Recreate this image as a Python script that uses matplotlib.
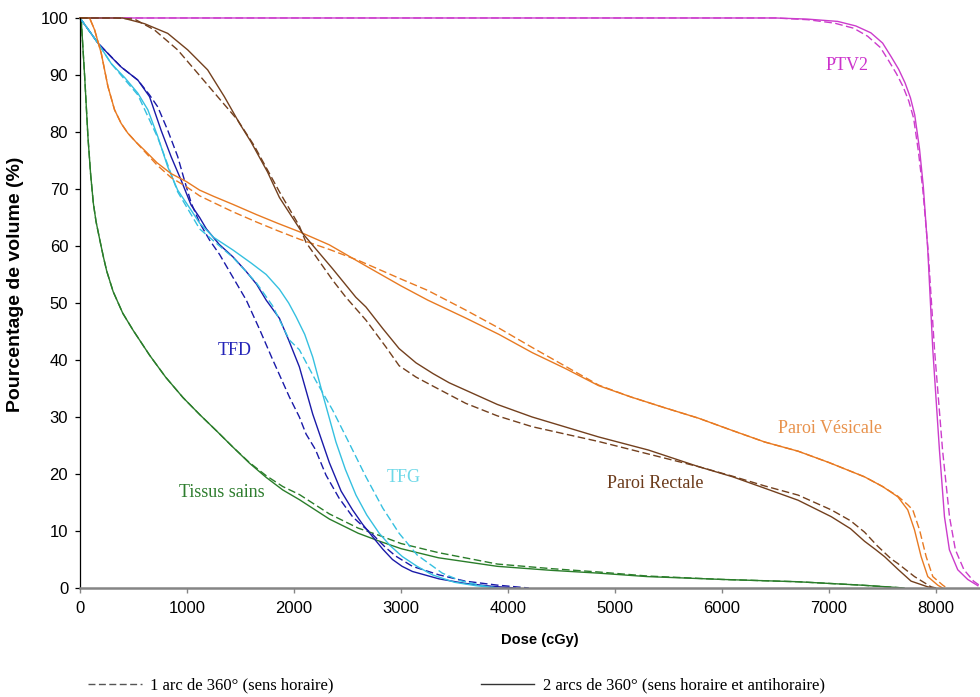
import matplotlib
matplotlib.use("Agg")
import matplotlib.pyplot as plt
from matplotlib.lines import Line2D

# Dose-volume histograms: dose (cGy) vs. percentage of volume (%)
# "arc1" = 1 arc of 360° (dashed), "arc2" = 2 arcs of 360° (solid)

ptv2_arc2_dose = [0, 6500, 6800, 7080, 7250, 7390, 7500, 7580, 7650, 7710, 7760, 7800,
                  7845, 7880, 7922, 7969, 8031, 8078, 8124, 8202, 8295, 8390]
ptv2_arc2_vol = [100, 100, 99.8, 99.4, 98.6, 97.4, 95.6, 93.2, 91, 88.6, 86, 83,
                 77, 70.5, 59.3, 41.8, 24.2, 12.5, 6.7, 3.2, 1.5, 0.4]
ptv2_arc1_dose = [0, 6500, 6800, 7050, 7230, 7360, 7480, 7560, 7630, 7690, 7745, 7790,
                  7835, 7875, 7925, 7985, 8060, 8125, 8180, 8260, 8350, 8410]
ptv2_arc1_vol = [100, 100, 99.7, 99.1, 98.2, 96.8, 94.8, 92.4, 90.2, 88, 85.4, 82.4,
                 76.5, 70, 59.3, 41.8, 24.2, 12.5, 6.7, 3.2, 1.2, 0.4]

sains_arc2_dose = [0, 12, 44, 75, 100, 125, 150, 186, 220, 250, 310, 400, 497, 652, 800,
                   963, 1120, 1274, 1430, 1584, 1740, 1895, 2050, 2330, 2600, 2800, 3000,
                   3350, 3900, 4400, 4850, 5300, 6000, 6700, 7300, 7700]
sains_arc2_vol = [100, 99.6, 89.7, 79, 72.5, 67.5, 64.3, 61.0, 58.0, 55.6, 52.0, 48.2, 45.2,
                  40.8, 37, 33.4, 30.4, 27.6, 24.7, 21.9, 19.4, 17.2, 15.5, 12.1, 9.6, 8.2,
                  6.9, 5.3, 3.8, 3.1, 2.6, 2.0, 1.5, 1.1, 0.5, 0]
sains_arc1_dose = [0, 12, 44, 75, 100, 125, 150, 186, 220, 250, 310, 400, 497, 652, 800,
                   963, 1120, 1274, 1430, 1584, 1740, 1895, 2050, 2330, 2600, 2800, 3000,
                   3350, 3900, 4400, 4850, 5300, 6000, 6700, 7300, 7700]
sains_arc1_vol = [100, 99.6, 89.7, 79, 72.5, 67.5, 64.3, 61.0, 58.0, 55.6, 52.0, 48.2, 45.2,
                  40.8, 37, 33.4, 30.4, 27.6, 24.7, 22.0, 19.7, 17.8, 16.4, 13.0, 10.5, 9.2,
                  7.8, 6.2, 4.2, 3.4, 2.8, 2.1, 1.5, 1.1, 0.5, 0]

tfd_arc2_dose = [0, 168, 290, 385, 541, 650, 758, 851, 944, 1038, 1118, 1181, 1300, 1429,
                 1550, 1650, 1740, 1864, 1950, 2050, 2175, 2330, 2440, 2547, 2640, 2734,
                 2830, 2920, 3010, 3106, 3355, 3600, 3850, 4070]
tfd_arc2_vol = [100, 95.6, 93.2, 91.4, 89.1, 86.2, 80.3, 75.7, 71.6, 67.2, 65, 63, 60.3, 58.1,
                55.6, 53.3, 50.5, 47.3, 43.5, 38.8, 30.5, 22, 17, 13.7, 11.2, 9,
                6.8, 5, 3.8, 2.9, 1.6, 0.8, 0.3, 0]
tfd_arc1_dose = [0, 168, 385, 541, 650, 727, 820, 913, 975, 1040, 1120, 1212, 1305, 1420,
                 1554, 1680, 1802, 1957, 2050, 2113, 2200, 2299, 2420, 2547, 2640, 2734,
                 2850, 2950, 3106, 3355, 3600, 3900, 4194]
tfd_arc1_vol = [100, 95.6, 91.4, 89.1, 86.5, 84.4, 80.3, 75.7, 71.6, 67.5, 64, 61, 58.5, 54.8,
                50.5, 45.3, 40, 33.5, 30, 27, 24.3, 19.8, 15.8, 12.5, 10.9, 9.4,
                7.2, 5.6, 3.8, 2.3, 1.2, 0.5, 0]

tfg_arc2_dose = [0, 168, 292, 420, 541, 634, 727, 820, 913, 1038, 1118, 1250, 1429, 1600,
                 1740, 1864, 1950, 2019, 2100, 2175, 2268, 2392, 2480, 2579, 2680, 2796,
                 2900, 3013, 3150, 3293, 3500, 3700, 3900]
tfg_arc2_vol = [100, 95.6, 92, 89.5, 86.8, 83.9, 79.2, 73.9, 69.8, 66.3, 64, 61.5, 59.3, 57,
                55, 52.4, 50, 47.6, 44.5, 40.5, 34, 25.6, 20.8, 16.3, 12.8, 9.6,
                7.4, 5.5, 3.8, 2.3, 1.0, 0.4, 0]
tfg_arc1_dose = [0, 168, 292, 541, 727, 913, 1118, 1429, 1650, 1800, 1957, 2050, 2200, 2361,
                 2500, 2672, 2830, 2982, 3150, 3386, 3550, 3759, 3900]
tfg_arc1_vol = [100, 95.6, 92, 86.5, 79, 69.5, 63, 58, 53.5, 49.5, 43.5, 41.8, 36.5, 31.2,
                26, 19.5, 14, 9.6, 5.8, 2.6, 1.3, 0.4, 0]

vesicale_arc2_dose = [0, 90, 137, 199, 261, 323, 385, 447, 525, 603, 720, 851, 994, 1118,
                      1250, 1429, 1650, 1845, 2050, 2330, 2672, 3000, 3250, 3600, 3914, 4225,
                      4536, 4846, 5150, 5467, 5778, 6100, 6400, 6710, 7000, 7331, 7500, 7642,
                      7735, 7798, 7860, 7922, 8015, 8060]
vesicale_arc2_vol = [100, 100, 97.9, 93.8, 88, 83.9, 81.5, 79.8, 78.2, 76.8, 74.6, 72.7, 71.3,
                     69.8, 68.7, 67.3, 65.5, 64, 62.5, 60.2, 56.5, 53, 50.5, 47.4, 44.5, 41.3,
                     38.5, 35.5, 33.5, 31.6, 29.8, 27.6, 25.6, 24, 22, 19.5, 17.8, 16,
                     13.7, 10.2, 5.5, 2, 0.5, 0]
vesicale_arc1_dose = [0, 90, 137, 199, 261, 323, 385, 447, 525, 603, 720, 851, 994, 1118,
                      1250, 1429, 1650, 1845, 2050, 2330, 2610, 3000, 3250, 3600, 3914, 4225,
                      4536, 4846, 5150, 5467, 5778, 6100, 6400, 6710, 7000, 7331, 7500, 7642,
                      7735, 7782, 7845, 7907, 7969, 8062, 8100]
vesicale_arc1_vol = [100, 100, 97.9, 93.8, 88, 83.9, 81.5, 79.8, 78.2, 76.6, 74.2, 72.0, 70.4,
                     68.8, 67.6, 66.0, 64.2, 62.7, 61.2, 59.4, 57.4, 54.2, 52.2, 48.8, 45.6, 42.2,
                     38.9, 35.6, 33.5, 31.6, 29.8, 27.6, 25.6, 24, 22, 19.5, 17.8, 16.1,
                     14.6, 13.7, 10.2, 5.5, 2, 0.5, 0]

rectale_arc2_dose = [0, 400, 603, 820, 1007, 1193, 1349, 1491, 1597, 1752, 1864, 2081, 2361,
                     2578, 2672, 2830, 2982, 3140, 3300, 3450, 3604, 3900, 4225, 4846, 5312,
                     5778, 6100, 6399, 6710, 7021, 7200, 7331, 7430, 7518, 7642, 7766, 7922,
                     7980]
rectale_arc2_vol = [100, 100, 99, 97.3, 94.4, 90.9, 86.2, 81.5, 78.3, 73, 68.5, 62.2, 56,
                    51, 49.3, 45.5, 42, 39.5, 37.6, 36.0, 34.7, 32.2, 30, 26.5, 24.2,
                    21.3, 19.5, 17.5, 15.4, 12.5, 10.4, 8.2, 6.8, 5.5, 3.3, 1.2, 0.2,
                    0]
rectale_arc1_dose = [0, 330, 510, 696, 913, 1100, 1286, 1473, 1628, 1864, 2050, 2113, 2361,
                     2485, 2672, 2858, 2982, 3140, 3300, 3604, 3900, 4225, 4846, 5312, 5778,
                     6100, 6399, 6710, 7021, 7200, 7331, 7450, 7580, 7642, 7798, 7953, 8000]
rectale_arc1_vol = [100, 100, 99.8, 97.9, 94.4, 90.3, 86.2, 82.1, 77.6, 69.5, 63.5, 60.6, 54,
                    51, 47, 42.3, 39.0, 37.0, 35.4, 32.4, 30.2, 28.3, 25.7, 23.5, 21.3,
                    19.6, 17.9, 16.3, 13.7, 11.8, 9.8, 7.4, 5.1, 4.3, 2, 0.2, 0]

x_ticks = [0, 1000, 2000, 3000, 4000, 5000, 6000, 7000, 8000]
y_ticks = [0, 10, 20, 30, 40, 50, 60, 70, 80, 90, 100]

structures = [
    # label, colour, label colour, label position (dose, volume), arc1 data, arc2 data
    ("PTV2", "#cc3ccc", "#cc33cc", (7170, 91.6),
     (ptv2_arc1_dose, ptv2_arc1_vol), (ptv2_arc2_dose, ptv2_arc2_vol)),
    ("Tissus sains", "#2a7d2a", "#2e7d2e", (1330, 16.7),
     (sains_arc1_dose, sains_arc1_vol), (sains_arc2_dose, sains_arc2_vol)),
    ("TFD", "#1a1aa8", "#2424b8", (1445, 41.7),
     (tfd_arc1_dose, tfd_arc1_vol), (tfd_arc2_dose, tfd_arc2_vol)),
    ("TFG", "#35c0e0", "#6ed8e8", (3030, 19.3),
     (tfg_arc1_dose, tfg_arc1_vol), (tfg_arc2_dose, tfg_arc2_vol)),
    ("Paroi Vésicale", "#e87a22", "#e8924c", (7010, 27.9),
     (vesicale_arc1_dose, vesicale_arc1_vol), (vesicale_arc2_dose, vesicale_arc2_vol)),
    ("Paroi Rectale", "#73401e", "#6b3a1a", (5380, 18.4),
     (rectale_arc1_dose, rectale_arc1_vol), (rectale_arc2_dose, rectale_arc2_vol)),
]

fig = plt.figure(figsize=(9.8, 6.97), dpi=100)
ax = fig.add_axes([0.0816, 0.1564, 0.9184, 0.8178])

for name, color, label_color, (lx, ly), (d1, v1), (d2, v2) in structures:
    ax.plot(d2, v2, color=color, lw=1.0, solid_joinstyle="round", clip_on=False)
    ax.plot(d1, v1, color=color, lw=1.0, dashes=(5.5, 2.5), clip_on=False)
    ax.text(lx, ly, name, color=label_color, fontsize=13, family="Liberation Serif",
            ha="center", va="center")

ax.set_xlim(0, 8410)
ax.set_ylim(0, 100)
ax.set_xticks(x_ticks)
ax.set_yticks(y_ticks)
ax.set_xticklabels([str(t) for t in x_ticks])
ax.set_yticklabels([str(t) for t in y_ticks])

for side in ("top", "right"):
    ax.spines[side].set_visible(False)
ax.spines["left"].set_color("#000000")
ax.spines["left"].set_linewidth(0.9)
ax.spines["bottom"].set_color("#858585")
ax.spines["bottom"].set_linewidth(1.8)

ax.tick_params(axis="y", direction="out", length=3.5, width=0.9, color="#000000",
               labelsize=12, pad=5.0)
ax.tick_params(axis="x", direction="out", length=3.5, width=1.0, color="#858585",
               labelsize=12, pad=6)
for lbl in ax.get_xticklabels() + ax.get_yticklabels():
    lbl.set_family("Liberation Sans")

ax.set_xlabel("Dose (cGy)", fontsize=10.5, fontweight="bold", family="Liberation Sans")
ax.set_ylabel("Pourcentage de volume (%)", fontsize=14, fontweight="bold",
              family="Liberation Sans")
ax.xaxis.set_label_coords(0.511, -0.079)
ax.yaxis.set_label_coords(-0.062, 0.533)

handles = [
    Line2D([], [], color="#555555", lw=1.0, dashes=(5, 2.5)),
    Line2D([], [], color="#333333", lw=1.0),
]
labels = ["1 arc de 360° (sens horaire)", "2 arcs de 360° (sens horaire et antihoraire)"]
fig.legend(handles, labels, loc="center", bbox_to_anchor=(0.4658, 0.016), ncol=2,
           frameon=False, handlelength=3.2, handletextpad=0.5, columnspacing=8.85,
           prop={"family": "Liberation Serif", "size": 12})

fig.savefig("out.png", dpi=100, facecolor="white")
